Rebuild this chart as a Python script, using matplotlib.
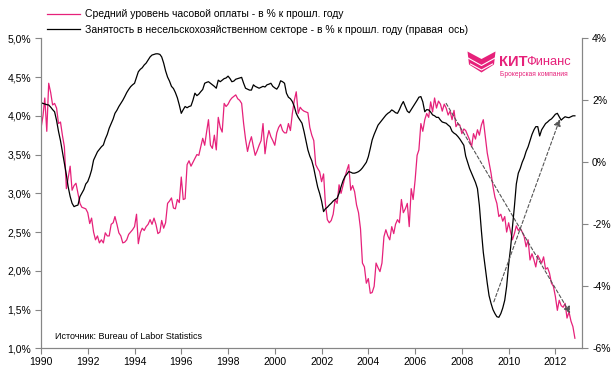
import pandas as pd
import matplotlib.pyplot as plt
import matplotlib.dates as mdates
from matplotlib.lines import Line2D
from matplotlib.patches import Polygon
from matplotlib.ticker import FuncFormatter, MultipleLocator

# monthly data, Jan 1990 - Nov 2012
# average hourly earnings, % y/y (left axis)
wages = [
    3.84, 4.00, 4.23, 3.80, 4.42, 4.30, 4.14, 4.16, 4.10, 3.90, 3.92, 3.75,  # 1990
    3.60, 3.06, 3.20, 3.35, 3.04, 3.10, 3.13, 3.00, 2.87, 2.82, 2.81, 2.80,  # 1991
    2.75, 2.61, 2.68, 2.50, 2.40, 2.45, 2.36, 2.40, 2.36, 2.49, 2.45, 2.45,  # 1992
    2.60, 2.62, 2.70, 2.60, 2.49, 2.45, 2.36, 2.37, 2.40, 2.47, 2.50, 2.53,  # 1993
    2.57, 2.73, 2.35, 2.49, 2.55, 2.52, 2.57, 2.60, 2.66, 2.60, 2.68, 2.60,  # 1994
    2.48, 2.50, 2.65, 2.55, 2.62, 2.87, 2.90, 2.94, 2.81, 2.80, 2.92, 2.88,  # 1995
    3.21, 2.92, 2.93, 3.37, 3.42, 3.35, 3.40, 3.45, 3.50, 3.49, 3.60, 3.71,  # 1996
    3.62, 3.80, 3.95, 3.62, 3.58, 3.75, 3.56, 3.98, 3.85, 3.79, 4.16, 4.12,  # 1997
    4.15, 4.20, 4.23, 4.25, 4.27, 4.22, 4.20, 4.16, 3.90, 3.70, 3.54, 3.65,  # 1998
    3.73, 3.60, 3.49, 3.55, 3.62, 3.68, 3.90, 3.51, 3.70, 3.81, 3.73, 3.68,  # 1999
    3.62, 3.78, 3.85, 3.89, 3.81, 3.78, 3.78, 3.90, 3.81, 4.03, 4.20, 4.31,  # 2000
    4.03, 4.11, 4.08, 4.06, 4.05, 4.04, 3.85, 3.75, 3.68, 3.37, 3.32, 3.28,  # 2001
    3.15, 3.25, 2.87, 2.66, 2.62, 2.65, 2.73, 2.92, 2.87, 3.11, 3.00, 3.10,  # 2002
    3.21, 3.30, 3.37, 3.04, 3.10, 3.02, 2.85, 2.75, 2.54, 2.10, 2.05, 1.84,  # 2003
    1.90, 1.71, 1.72, 1.80, 2.10, 2.04, 1.99, 2.10, 2.44, 2.53, 2.45, 2.40,  # 2004
    2.57, 2.48, 2.60, 2.66, 2.62, 2.92, 2.75, 2.80, 2.87, 2.57, 3.06, 2.92,  # 2005
    3.17, 3.49, 3.56, 3.90, 3.80, 3.95, 4.03, 3.98, 4.18, 4.05, 4.23, 4.10,  # 2006
    4.19, 4.15, 4.06, 4.15, 4.10, 4.01, 4.06, 3.95, 4.07, 3.86, 3.90, 3.88,  # 2007
    3.77, 3.83, 3.81, 3.75, 3.69, 3.60, 3.77, 3.70, 3.82, 3.75, 3.88, 3.95,  # 2008
    3.73, 3.52, 3.40, 3.26, 3.09, 2.95, 2.87, 2.70, 2.73, 2.64, 2.70, 2.50,  # 2009
    2.62, 2.50, 2.40, 2.48, 2.58, 2.52, 2.55, 2.50, 2.44, 2.31, 2.40, 2.14,  # 2010
    2.22, 2.14, 2.05, 2.20, 2.15, 2.10, 2.18, 2.02, 2.04, 1.97, 1.84, 1.80,  # 2011
    1.67, 1.49, 1.62, 1.55, 1.53, 1.58, 1.39, 1.47, 1.35, 1.28, 1.13,        # 2012
]
# nonfarm employment, % y/y (right axis)
jobs = [
    1.92, 1.90, 1.88, 1.86, 1.85, 1.78, 1.70, 1.63, 1.35, 1.00, 0.70, 0.35,
    -0.03, -0.40, -0.79, -1.10, -1.32, -1.43, -1.40, -1.38, -1.11, -1.00, -0.88, -0.70,
    -0.62, -0.45, -0.25, 0.07, 0.20, 0.34, 0.42, 0.50, 0.56, 0.75, 0.90, 1.10,
    1.25, 1.40, 1.58, 1.68, 1.80, 1.90, 2.00, 2.12, 2.25, 2.35, 2.44, 2.50,
    2.55, 2.75, 2.92, 3.00, 3.05, 3.14, 3.20, 3.30, 3.40, 3.46, 3.48, 3.50,
    3.50, 3.48, 3.40, 3.20, 2.95, 2.75, 2.62, 2.45, 2.38, 2.25, 2.08, 1.85,
    1.58, 1.70, 1.80, 1.76, 1.80, 1.82, 2.00, 2.23, 2.15, 2.20, 2.28, 2.35,
    2.55, 2.58, 2.60, 2.55, 2.50, 2.45, 2.39, 2.65, 2.60, 2.65, 2.70, 2.72,
    2.78, 2.70, 2.60, 2.62, 2.68, 2.70, 2.72, 2.74, 2.55, 2.39, 2.36, 2.33,
    2.33, 2.50, 2.45, 2.42, 2.39, 2.42, 2.45, 2.43, 2.50, 2.52, 2.55, 2.45,
    2.40, 2.36, 2.45, 2.63, 2.60, 2.55, 2.23, 2.10, 2.05, 1.96, 1.80, 1.58,
    1.45, 1.35, 1.26, 1.00, 0.70, 0.40, 0.20, 0.05, -0.19, -0.50, -0.80, -1.00,
    -1.25, -1.59, -1.50, -1.45, -1.38, -1.32, -1.25, -1.20, -1.16, -1.00, -0.79, -0.60,
    -0.46, -0.38, -0.30, -0.32, -0.35, -0.35, -0.33, -0.30, -0.25, -0.18, -0.09, 0.00,
    0.18, 0.45, 0.72, 0.90, 1.05, 1.20, 1.28, 1.36, 1.45, 1.52, 1.58, 1.62,
    1.69, 1.65, 1.60, 1.58, 1.70, 1.85, 1.96, 1.80, 1.65, 1.60, 1.70, 1.80,
    1.90, 2.00, 2.10, 2.12, 1.95, 1.63, 1.70, 1.69, 1.62, 1.53, 1.50, 1.45,
    1.45, 1.36, 1.30, 1.28, 1.26, 1.20, 1.15, 1.00, 0.94, 0.90, 0.83, 0.75,
    0.65, 0.55, 0.20, 0.00, -0.20, -0.35, -0.50, -0.65, -0.85, -1.40, -2.20, -2.90,
    -3.40, -3.90, -4.30, -4.55, -4.75, -4.88, -4.98, -5.00, -4.88, -4.70, -4.45, -4.00,
    -3.30, -2.75, -2.10, -1.43, -0.70, -0.35, -0.20, 0.00, 0.15, 0.35, 0.50, 0.70,
    0.90, 1.05, 1.15, 1.15, 0.85, 1.05, 1.15, 1.25, 1.30, 1.36, 1.40, 1.47,
    1.55, 1.58, 1.47, 1.36, 1.42, 1.47, 1.45, 1.44, 1.47, 1.50, 1.50,
]
dates = pd.date_range('1990-01-01', periods=len(wages), freq='MS')

# trend arrows: (start date, start value) -> (end date, end value)
wage_trend = [('2007-05-01', 4.16), ('2012-08-20', 1.45)]
jobs_trend = [('2009-05-15', -4.50), ('2012-03-10', 1.39)]

labels = ['Средний уровень часовой оплаты - в % к прошл. году',
          'Занятость в несельскохозяйственном секторе - в % к прошл. году (правая  ось)']
source = 'Источник: Bureau of Labor Statistics'

pink = '#E6217A'
axis_grey = '#868686'
plt.rcParams['font.family'] = ['Liberation Sans', 'DejaVu Sans']

fig = plt.figure(figsize=(6.14, 3.85), dpi=100)
ax = fig.add_axes([0.0668, 0.0953, 0.8816, 0.8052])
ax2 = ax.twinx()

ax.plot(dates, wages, color=pink, lw=0.9)
ax2.plot(dates, jobs, color='black', lw=0.9)

ax.set_xlim(pd.Timestamp('1990-01-01'), pd.Timestamp('2013-02-25'))
ax.set_ylim(1.0, 5.0)
ax2.set_ylim(-6, 4)
ax.xaxis.set_major_locator(mdates.YearLocator(2))
ax.xaxis.set_major_formatter(mdates.DateFormatter('%Y'))
ax.yaxis.set_major_locator(MultipleLocator(0.5))
ax2.yaxis.set_major_locator(MultipleLocator(2))
ax.yaxis.set_major_formatter(FuncFormatter(lambda v, p: f'{v:.1f}%'.replace('.', ',')))
ax2.yaxis.set_major_formatter(FuncFormatter(lambda v, p: f'{v:.0f}%'))

for a in (ax, ax2):
    a.spines['top'].set_visible(False)
    for s in ('left', 'right', 'bottom'):
        a.spines[s].set_color(axis_grey)
    a.tick_params(length=4, width=0.8, color=axis_grey, labelsize=7.5, pad=2)
ax.tick_params(axis='y', pad=3)
ax2.tick_params(axis='y', pad=3)

# dashed trend arrows
arrow_style = dict(arrowstyle='-|>', color='#555555', lw=0.8, linestyle=(0, (3, 2)),
                   mutation_scale=10, shrinkA=0, shrinkB=0)
for a, ((x0, y0), (x1, y1)) in [(ax, wage_trend), (ax2, jobs_trend)]:
    a.annotate('', xy=(mdates.date2num(pd.Timestamp(x1)), y1),
               xytext=(mdates.date2num(pd.Timestamp(x0)), y0), arrowprops=arrow_style)

ax.text(0.025, 0.03, source, transform=ax.transAxes, fontsize=6.5, color='black')

# legend above the plot
handles = [Line2D([], [], color=pink, lw=0.9), Line2D([], [], color='black', lw=0.9)]
fig.legend(handles, labels, loc='upper left', bbox_to_anchor=(0.061, 1.0), frameon=False,
           fontsize=7.5, handlelength=3.2, handletextpad=0.5, labelspacing=0.55)

# company logo
logo = fig.add_axes([466 / 614, 1 - 80 / 385, 104 / 614, 32 / 385])
logo.set_xlim(0, 104)
logo.set_ylim(32, 0)
logo.axis('off')
logo.add_patch(Polygon([(1.5, 3.5), (15.5, 11), (29.5, 3.5), (28, 16.5), (15.5, 24.5), (3, 16.5)],
                       closed=True, color=pink, lw=0))
logo.plot([2.0, 15.5, 29.0], [10.0, 17.5, 10.0], color='white', lw=0.8)
logo.plot([4.5, 15.5, 26.5], [16.0, 22.0, 16.0], color='white', lw=0.8)
logo.text(33, 14, 'КИТ', color=pink, fontsize=10.5, fontweight='bold', va='center', ha='left')
logo.text(60, 14, 'Финанс', color=pink, fontsize=9.3, va='center', ha='left')
logo.text(34, 27, 'Брокерская компания', color=pink, fontsize=4.8, va='center', ha='left')

plt.savefig('out.png', dpi=100)
